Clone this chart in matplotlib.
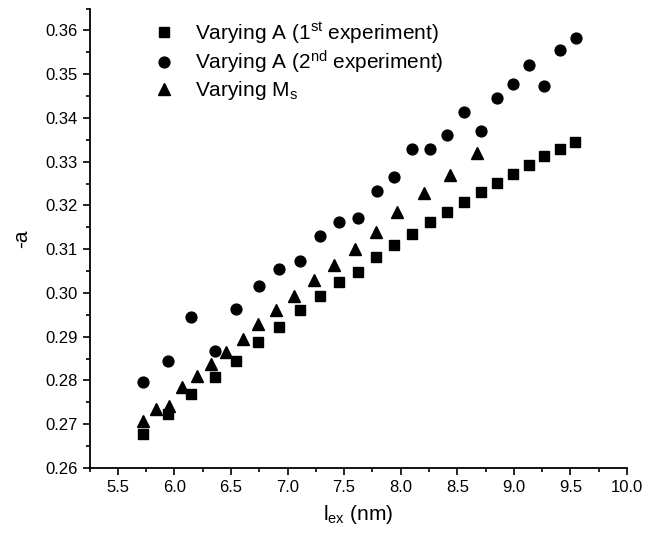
import matplotlib
matplotlib.use("Agg")
import matplotlib.pyplot as plt
from matplotlib.ticker import MultipleLocator, FormatStrFormatter

plt.rcParams['font.family'] = ['Liberation Sans', 'DejaVu Sans']
plt.rcParams['mathtext.fontset'] = 'custom'
plt.rcParams['mathtext.rm'] = 'Liberation Sans'
plt.rcParams['mathtext.it'] = 'Liberation Sans:italic'

# Varying A (1st experiment) - squares
x_sq = [5.724, 5.945, 6.150, 6.356, 6.548, 6.737, 6.927, 7.106, 7.283, 7.457, 7.622, 7.783,
        7.944, 8.104, 8.260, 8.412, 8.563, 8.707, 8.849, 8.995, 9.134, 9.269, 9.410, 9.542]
y_sq = [0.2677, 0.2724, 0.2768, 0.2809, 0.2844, 0.2888, 0.2923, 0.2960, 0.2993, 0.3025, 0.3047, 0.3082,
        0.3110, 0.3134, 0.3161, 0.3184, 0.3208, 0.3230, 0.3252, 0.3272, 0.3292, 0.3312, 0.3330, 0.3346]

# Varying A (2nd experiment) - circles
x_ci = [5.724, 5.945, 6.150, 6.356, 6.548, 6.745, 6.927, 7.106, 7.283, 7.457, 7.622, 7.790,
        7.945, 8.104, 8.260, 8.413, 8.562, 8.708, 8.849, 8.995, 9.134, 9.268, 9.407, 9.546]
y_ci = [0.2796, 0.2844, 0.2946, 0.2867, 0.2964, 0.3015, 0.3055, 0.3072, 0.3131, 0.3162, 0.3171, 0.3232,
        0.3264, 0.3329, 0.3329, 0.3360, 0.3414, 0.3371, 0.3445, 0.3477, 0.3520, 0.3473, 0.3555, 0.3582]

# Varying Ms - triangles
x_tr = [5.724, 5.839, 5.956, 6.065, 6.197, 6.327, 6.459, 6.603, 6.742, 6.901, 7.060, 7.230,
        7.410, 7.595, 7.783, 7.971, 8.210, 8.436, 8.677]
y_tr = [0.2707, 0.2734, 0.2742, 0.2784, 0.2811, 0.2838, 0.2866, 0.2895, 0.2928, 0.2960, 0.2993, 0.3029,
        0.3064, 0.3101, 0.3140, 0.3184, 0.3228, 0.3269, 0.3319]

labels = [r'Varying A (1$^{\mathregular{st}}$ experiment)',
          r'Varying A (2$^{\mathregular{nd}}$ experiment)',
          r'Varying M$_{\mathregular{s}}$']

W, H = 664, 536
fig = plt.figure(figsize=(W / 100, H / 100), dpi=100)
ax = fig.add_axes([89.5 / W, (H - 468) / H, 537.5 / W, 459.5 / H])

ax.plot(x_sq, y_sq, ls='none', marker='s', ms=7, color='black', label=labels[0])
ax.plot(x_ci, y_ci, ls='none', marker='o', ms=7.8, color='black', label=labels[1])
ax.plot(x_tr, y_tr, ls='none', marker='^', ms=8.5, color='black', label=labels[2])

ax.set_xlim(5.25, 10.0)
ax.set_ylim(0.26, 0.365)
ax.xaxis.set_major_locator(MultipleLocator(0.5))
ax.xaxis.set_minor_locator(MultipleLocator(0.25))
ax.yaxis.set_major_locator(MultipleLocator(0.01))
ax.yaxis.set_minor_locator(MultipleLocator(0.005))
ax.xaxis.set_major_formatter(FormatStrFormatter('%.1f'))
ax.yaxis.set_major_formatter(FormatStrFormatter('%.2f'))

for side in ['top', 'right']:
    ax.spines[side].set_visible(False)
for side in ['left', 'bottom']:
    ax.spines[side].set_linewidth(1.3)

ax.tick_params(which='major', direction='out', length=5, width=1.2, labelsize=12, pad=3.5)
ax.tick_params(which='minor', direction='out', length=3, width=1.2)

ax.set_xlabel(r'l$_{\mathregular{ex}}$ (nm)', fontsize=15, labelpad=6)
ax.set_ylabel('-a', fontsize=15, labelpad=10)

leg = fig.legend(loc='upper left', bbox_to_anchor=(143 / W, 1 - 20 / H), frameon=False, fontsize=15,
                 handletextpad=0.5, labelspacing=0.15, handlelength=2.0, borderpad=0, borderaxespad=0)

fig.savefig('out.png', dpi=100)
